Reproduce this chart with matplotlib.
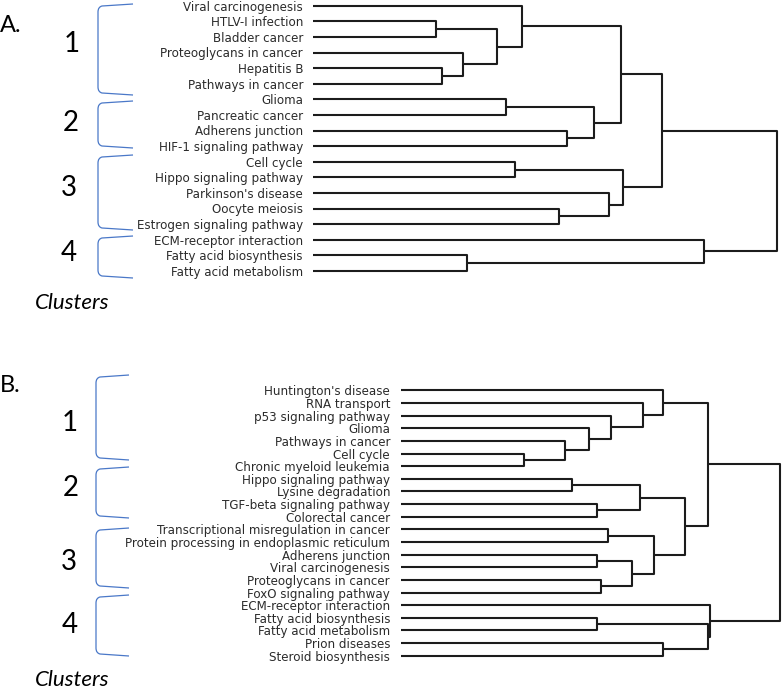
import matplotlib
matplotlib.use("Agg")
import matplotlib.pyplot as plt
from matplotlib.path import Path
from matplotlib.patches import PathPatch

# ---- Panel A data: leaf labels (top to bottom) and merges (child, child, height)
labels_a = ["Viral carcinogenesis", "HTLV-I infection", "Bladder cancer",
            "Proteoglycans in cancer", "Hepatitis B", "Pathways in cancer",
            "Glioma", "Pancreatic cancer", "Adherens junction",
            "HIF-1 signaling pathway", "Cell cycle", "Hippo signaling pathway",
            "Parkinson's disease", "Oocyte meiosis", "Estrogen signaling pathway",
            "ECM-receptor interaction", "Fatty acid biosynthesis",
            "Fatty acid metabolism"]
merges_a = [(1, 2, 1.227), (4, 5, 1.293), (3, 19, 1.503), (18, 20, 1.843),
            (0, 21, 2.087), (6, 7, 1.933), (8, 9, 2.540), (23, 24, 2.807),
            (22, 25, 3.080), (10, 11, 2.017), (13, 14, 2.457), (12, 28, 2.960),
            (27, 29, 3.100), (26, 30, 3.487), (16, 17, 1.540), (15, 32, 3.907),
            (31, 33, 4.640)]

# ---- Panel B data
labels_b = ["Huntington's disease", "RNA transport", "p53 signaling pathway",
            "Glioma", "Pathways in cancer", "Cell cycle",
            "Chronic myeloid leukemia", "Hippo signaling pathway",
            "Lysine degradation", "TGF-beta signaling pathway",
            "Colorectal cancer", "Transcriptional misregulation in cancer",
            "Protein processing in endoplasmic reticulum", "Adherens junction",
            "Viral carcinogenesis", "Proteoglycans in cancer",
            "FoxO signaling pathway", "ECM-receptor interaction",
            "Fatty acid biosynthesis", "Fatty acid metabolism",
            "Prion diseases", "Steroid biosynthesis"]
merges_b = [(5, 6, 1.227), (4, 22, 1.640), (3, 23, 1.883), (2, 24, 2.100),
            (1, 25, 2.423), (0, 26, 2.617), (7, 8, 1.710), (9, 10, 1.957),
            (28, 29, 2.390), (11, 12, 2.067), (13, 14, 1.957), (15, 16, 2.000),
            (32, 33, 2.313), (31, 34, 2.533), (30, 35, 2.843), (27, 36, 3.067),
            (18, 19, 1.963), (20, 21, 2.617), (38, 39, 3.073), (17, 40, 3.090),
            (37, 41, 3.790)]

cluster_names = ["1", "2", "3", "4"]

W, H = 782, 691
fig = plt.figure(figsize=(W / 100, H / 100), dpi=100)

LINE_COLOR = "#1c1c1c"
TEXT_COLOR = "#2b2b2b"
BLUE = "#4a78c8"


def panel_axes(left, right, top, bottom, first_leaf, step, n):
    ax = fig.add_axes([left / W, 1 - bottom / H, (right - left) / W, (bottom - top) / H])
    ax.set_xlim(0, (right - left) / 100)
    ax.set_ylim((bottom - first_leaf) / step, (top - first_leaf) / step)
    for s in ax.spines.values():
        s.set_visible(False)
    ax.set_xticks([])
    ax.set_yticks(range(n))
    return ax


def draw_dendrogram(ax, labels, merges, pad):
    n = len(labels)
    pos = list(range(n))
    hts = [0.0] * n
    for a, b, h in merges:
        ax.plot([hts[a], h, h, hts[b]], [pos[a], pos[a], pos[b], pos[b]],
                color=LINE_COLOR, lw=1.5, clip_on=False, solid_capstyle="butt")
        pos.append((pos[a] + pos[b]) / 2)
        hts.append(h)
    ax.set_yticklabels(labels, fontsize=8.6, color=TEXT_COLOR)
    ax.tick_params(axis="y", length=0, pad=pad)


ax_a = panel_axes(313, 782, 0, 290, 5.7, 15.6, len(labels_a))
draw_dendrogram(ax_a, labels_a, merges_a, 7.2)

ax_b = panel_axes(401, 782, 365, 691, 390.3, 12.64, len(labels_b))
draw_dendrogram(ax_b, labels_b, merges_b, 7.9)

# ---- overlay for brackets, cluster numbers and panel letters (pixel coords)
ov = fig.add_axes([0, 0, 1, 1])
ov.set_xlim(0, W)
ov.set_ylim(H, 0)
ov.axis("off")


def bracket(xl, xr, top, bot):
    verts = [(xr, top), (xl + 4, top + 2), (xl, top + 3), (xl, top + 8),
             (xl, bot - 8), (xl, bot - 3), (xl + 4, bot - 2), (xr, bot)]
    codes = [Path.MOVETO, Path.LINETO, Path.CURVE3, Path.CURVE3,
             Path.LINETO, Path.CURVE3, Path.CURVE3, Path.LINETO]
    ov.add_patch(PathPatch(Path(verts, codes), fill=False, edgecolor=BLUE, lw=0.9))


brackets_a = [(4, 95), (101, 148), (155, 230), (236, 278)]
numbers_a = [(71.5, 43.5), (71, 123), (69, 188), (69, 253)]
brackets_b = [(375, 460), (467, 518), (528, 588), (595, 656)]
numbers_b = [(70, 423), (71, 488), (69, 562), (70, 625)]

for (t, b), (x, y), name in zip(brackets_a, numbers_a, cluster_names):
    bracket(98, 133, t, b)
    ov.text(x, y, name, fontsize=20, family="Lato", ha="center", va="center", color="black")
for (t, b), (x, y), name in zip(brackets_b, numbers_b, cluster_names):
    bracket(96, 129, t, b)
    ov.text(x, y, name, fontsize=20, family="Lato", ha="center", va="center", color="black")

ov.text(0, 25, "A.", fontsize=17, family="Lato", ha="left", va="center", color="black")
ov.text(0, 385, "B.", fontsize=17, family="Lato", ha="left", va="center", color="black")
ov.text(35, 309, "Clusters", fontsize=16, family="Lato", style="italic",
        ha="left", va="baseline", color="black")
ov.text(35, 686, "Clusters", fontsize=16, family="Lato", style="italic",
        ha="left", va="baseline", color="black")

fig.savefig("out.png", dpi=100)
